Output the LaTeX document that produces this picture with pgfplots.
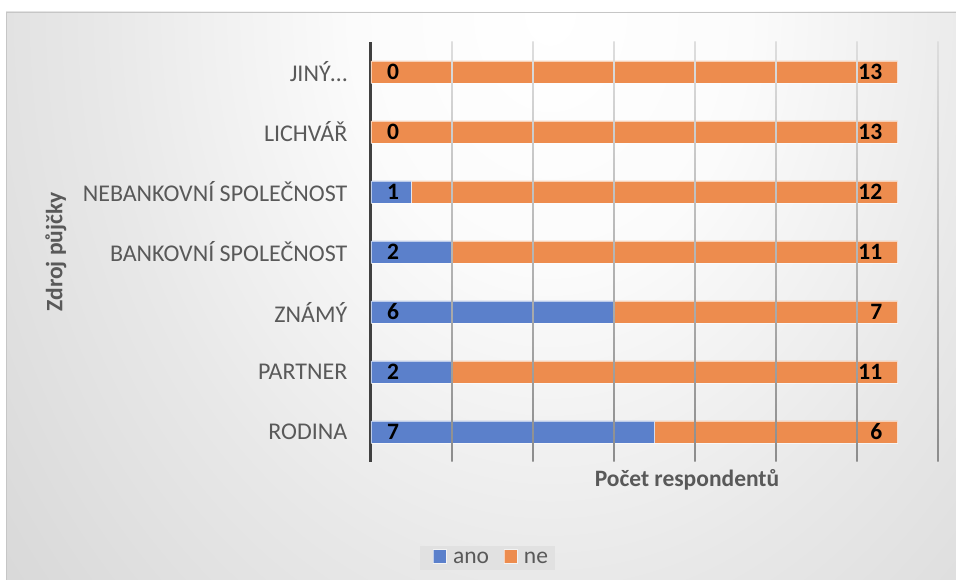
\documentclass[border=0pt]{standalone}
\usepackage{pgfplots}
\pgfplotsset{compat=1.18}
\usepackage{pgfplotstable}
\usepackage{fontspec}
\setmainfont{Carlito}
\definecolor{cblue}{RGB}{91,128,203}
\definecolor{corange}{RGB}{237,140,78}
\definecolor{txt}{RGB}{89,89,89}
\definecolor{axl}{RGB}{64,64,64}
\definecolor{gridtop}{RGB}{222,222,222}
\definecolor{gridbot}{RGB}{140,140,140}
\definecolor{legfill}{RGB}{225,225,225}
\pgfdeclareradialshading{bgshade}{\pgfpoint{0bp}{0bp}}{%
 color(0bp)=(white); color(7bp)=(white!98.5!black); color(16bp)=(white!91!black);
 color(24bp)=(white!85.5!black); color(30bp)=(white!82.5!black);
 color(39.3bp)=(white!78.5!black); color(50bp)=(white!76.5!black); color(60bp)=(white!75.5!black)}
\pgfplotstableread{
idx ano ne
0 7 6
1 2 11
2 6 7
3 2 11
4 1 12
5 0 13
6 0 13
}\data
\newcommand{\bigfont}{\fontsize{23.5}{28}\selectfont}
\begin{document}
\begin{tikzpicture}[x=1pt,y=1pt]
\useasboundingbox (0,0) rectangle (956,580);
\fill[white] (0,0) rectangle (956,580);
\begin{scope}
\clip (6,0) rectangle (956,568);
\shade[shading=bgshade] (-150,-342) rectangle (1250,1478);
\end{scope}
\draw[gray!45, line width=0.8pt] (6,0) -- (6,568) -- (956,568);
\begin{axis}[
  at={(371pt,118pt)}, anchor=south west,
  scale only axis, width=567pt, height=420pt,
  xbar stacked, bar width=22pt,
  xmin=0, xmax=14, ymin=-0.5, ymax=6.5,
  xtick=\empty,
  ytick={0,...,6},
  yticklabels={RODINA, PARTNER, ZNÁMÝ, BANKOVNÍ SPOLEČNOST, NEBANKOVNÍ SPOLEČNOST, LICHVÁŘ, JINÝ…},
  major tick length=0pt,
  axis line style={draw=none},
  yticklabel style={font=\fontsize{24}{28}\selectfont, text=txt, anchor=east, inner sep=0pt, xshift=-23.5pt},
  xlabel={Počet respondentů},
  xlabel style={at={(axis description cs:0.5573,-0.0595)}, anchor=base, font=\bfseries\bigfont, text=txt, inner sep=0pt},
  ylabel={Zdroj půjčky},
  ylabel style={at={(axis description cs:-0.5556,0.5)}, anchor=center, rotate=0, font=\bfseries\bigfont, text=txt, inner sep=0pt},
  legend style={at={(axis description cs:0.2055,-0.2285)}, anchor=center, legend columns=2, draw=none,
    fill=legfill, font=\bigfont, text=txt, inner xsep=5pt, inner ysep=3.5pt,
    /tikz/every even column/.append style={column sep=5pt}},
  legend image code/.code={\path[draw=none,fill=none] (-8pt,0pt) -- (18pt,0pt); \fill[#1] (0pt,-5pt) rectangle (13pt,8.5pt);},
  clip=false,
]
\pgfplotsinvokeforeach{2,4,...,14}{
  \shade[top color=gridtop, bottom color=gridbot] ([xshift=-0.6pt]axis cs:#1,-0.5) rectangle ([xshift=0.6pt]axis cs:#1,6.5);
}
\addplot[fill=cblue, draw=white, draw opacity=0.6, line width=0.8pt] table[x=ano, y=idx] {\data};
\addplot[fill=corange, draw=white, draw opacity=0.6, line width=0.8pt] table[x=ne, y=idx] {\data};
\legend{ano, ne}
\draw[axl, line width=3pt] (axis cs:0,-0.5) -- (axis cs:0,6.5);
\end{axis}
\begin{axis}[
  at={(371pt,118pt)}, anchor=south west,
  scale only axis, width=567pt, height=420pt,
  xmin=0, xmax=14, ymin=-0.5, ymax=6.5,
  hide axis, clip=false,
]
\addplot[draw=none, mark=none, point meta=explicit,
  nodes near coords={\pgfmathprintnumber[assume math mode=true]{\pgfplotspointmeta}},
  nodes near coords style={anchor=west, inner sep=0pt, xshift=16pt, font=\bfseries\bigfont, text=black}]
  table[x expr=0, y=idx, meta=ano] {\data};
\addplot[draw=none, mark=none, point meta=explicit,
  nodes near coords={\pgfmathprintnumber[assume math mode=true]{\pgfplotspointmeta}},
  nodes near coords style={anchor=east, inner sep=0pt, xshift=-15pt, font=\bfseries\bigfont, text=black}]
  table[x expr=\thisrow{ano}+\thisrow{ne}, y=idx, meta=ne] {\data};
\end{axis}
\end{tikzpicture}
\end{document}
